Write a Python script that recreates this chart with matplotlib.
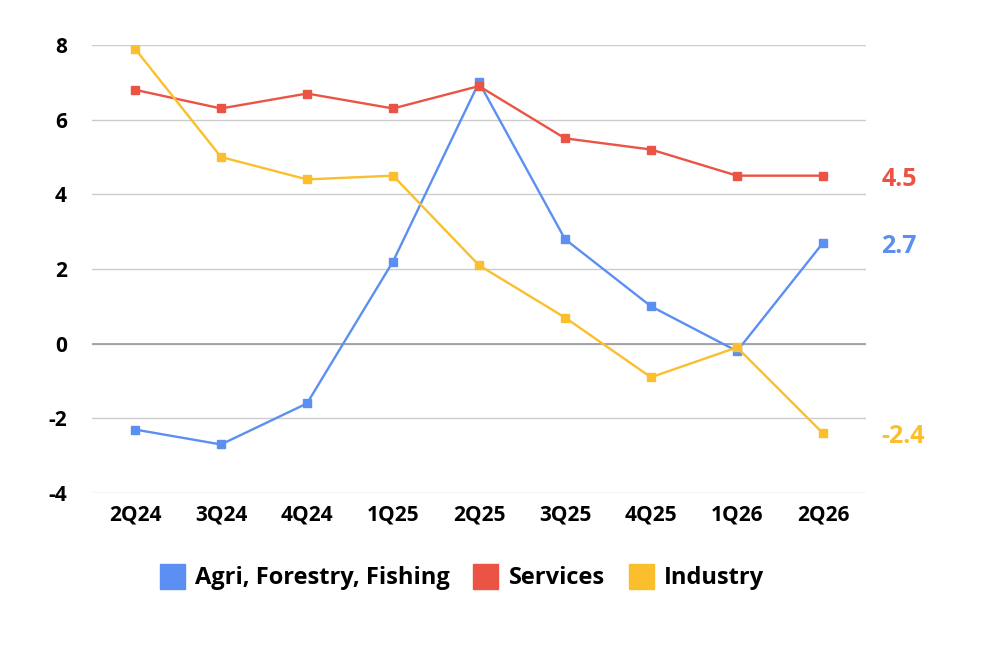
import matplotlib.pyplot as plt
from matplotlib.lines import Line2D

quarters = ["2Q24", "3Q24", "4Q24", "1Q25", "2Q25", "3Q25", "4Q25", "1Q26", "2Q26"]
agri = [-2.3, -2.7, -1.6, 2.2, 7.0, 2.8, 1.0, -0.2, 2.7]
services = [6.8, 6.3, 6.7, 6.3, 6.9, 5.5, 5.2, 4.5, 4.5]
industry = [7.9, 5.0, 4.4, 4.5, 2.1, 0.7, -0.9, -0.1, -2.4]
yticks = [-4, -2, 0, 2, 4, 6, 8]

blue = "#5B8FF2"
red = "#EB5444"
yellow = "#FBBF2D"

plt.rcParams['font.family'] = ['Open Sans', 'DejaVu Sans']
plt.rcParams['axes.unicode_minus'] = False

fig = plt.figure(figsize=(9.97, 6.64), dpi=100)
ax = fig.add_axes([92/997, 1-493/664, (866-92)/997, (493-45)/664])

x = list(range(len(quarters)))
for vals, col, name in [(agri, blue, "Agri, Forestry, Fishing"),
                        (services, red, "Services"),
                        (industry, yellow, "Industry")]:
    ax.plot(x, vals, color=col, lw=1.7, marker="s", ms=6, label=name, zorder=3)
    ax.annotate(f"{vals[-1]}", xy=(x[-1], vals[-1]), xytext=(42, -2.5),
                textcoords="offset points", color=col, fontsize=18,
                fontweight="bold", va="center", ha="left", annotation_clip=False)

ax.set_xlim(-0.5, 8.5)
ax.set_ylim(-4, 8)
ax.set_yticks(yticks)
ax.set_xticks(x)
ax.set_xticklabels(quarters)
ax.grid(axis="y", color="#cccccc", lw=1)
ax.axhline(0, color="#999999", lw=1.2, zorder=2)
for s in ax.spines.values():
    s.set_visible(False)
ax.tick_params(length=0, labelsize=15)
ax.tick_params(axis="y", pad=18)
ax.tick_params(axis="x", pad=8)
for lab in ax.get_xticklabels() + ax.get_yticklabels():
    lab.set_fontweight("bold")

handles = [Line2D([], [], marker="s", ls="", color=c, ms=18) for c in (blue, red, yellow)]
fig.legend(handles, ["Agri, Forestry, Fishing", "Services", "Industry"],
           loc="center", bbox_to_anchor=(461/997, 1-578/664), ncol=3, frameon=False,
           prop={"size": 17, "weight": "bold"}, handletextpad=0.4, columnspacing=0.9,
           handlelength=1.2)

fig.savefig("out.png", dpi=100)
